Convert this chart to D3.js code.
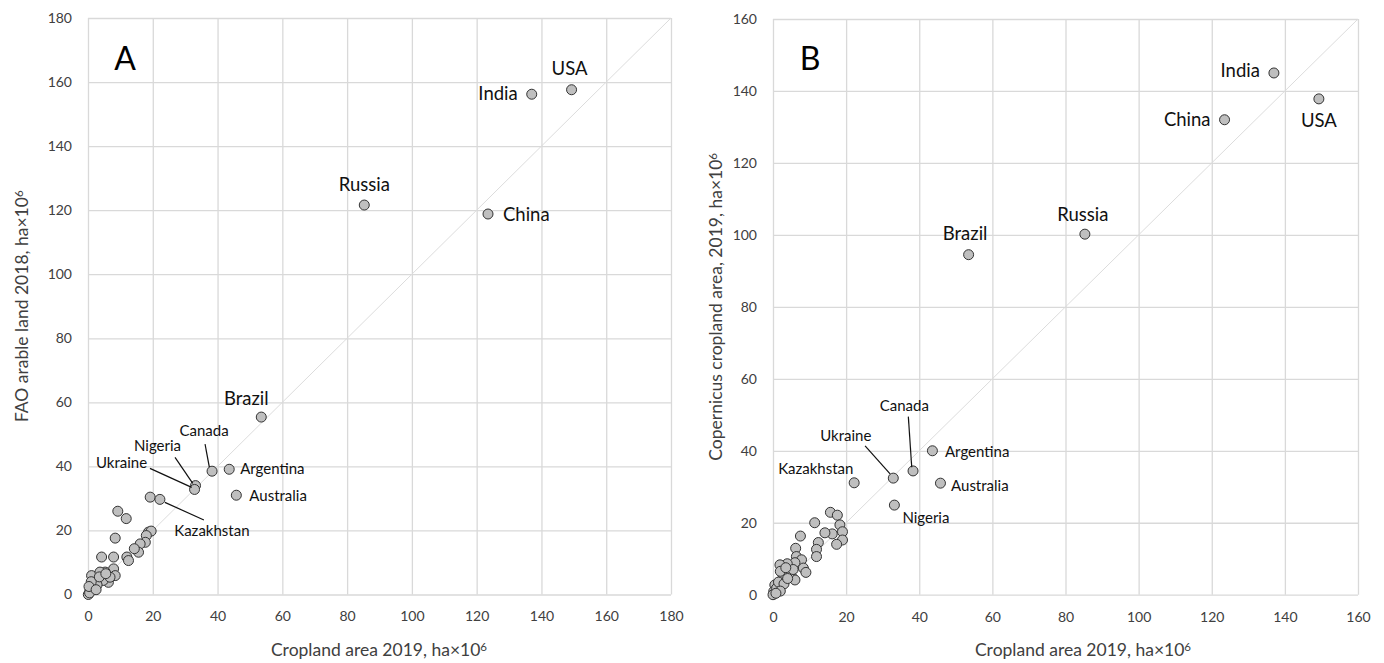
<!DOCTYPE html>
<html>
<head>
<meta charset="utf-8">
<script src="https://cdn.jsdelivr.net/npm/d3@7"></script>
<style>
  body { margin: 0; background: #fff; }
  svg { display: block; font-family: Lato, "Open Sans", sans-serif; }
</style>
</head>
<body>
<svg id="chart" width="1384" height="663"></svg>
<script>
// named countries: cropland area 2019, FAO arable 2018, Copernicus 2019 (ha x 10^6)
const countries  = ["USA", "India", "China", "Russia", "Brazil", "Canada", "Argentina", "Australia", "Nigeria", "Ukraine", "Kazakhstan"];
const cropland   = [149.3, 137.0, 123.5, 85.3, 53.5, 38.3, 43.6, 45.8, 33.2, 32.9, 22.2];
const faoArable  = [157.6, 156.2, 118.8, 121.6, 55.4, 38.5, 39.1, 31.0, 34.0, 32.8, 29.7];
const copernicus = [137.8, 145.0, 132.0, 100.2, 94.5, 34.4, 40.0, 31.0, 24.9, 32.4, 31.1];

// unlabelled countries, [cropland, other estimate]
const otherA = [
  [19.2, 30.4], [9.2, 26.0], [11.8, 23.7], [8.4, 17.6], [18.7, 19.5], [19.5, 19.8],
  [18.0, 18.4], [17.7, 16.3], [16.1, 15.8], [15.6, 13.2], [14.3, 14.3], [12.0, 11.7],
  [12.5, 10.6], [7.9, 11.7], [4.2, 11.7], [7.9, 8.0], [5.3, 7.0], [8.4, 5.9],
  [6.3, 3.8], [3.2, 4.4], [1.1, 5.9], [1.6, 3.3], [0.6, 1.25], [0.1, 0.0],
  [2.2, 2.3], [4.7, 4.4], [6.8, 5.4], [3.7, 7.0], [1.5, 2.0], [0.5, 0.5],
  [2.8, 3.0], [1.0, 4.0], [3.5, 5.5], [5.5, 6.5], [0.3, 2.5], [2.5, 1.5]
];
const otherB = [
  [15.7, 22.9], [17.6, 22.1], [18.3, 19.4], [19.0, 17.5], [19.0, 15.2], [17.4, 14.0],
  [16.2, 16.9], [14.2, 17.2], [11.4, 20.0], [7.5, 16.3], [12.4, 14.5], [11.9, 12.6],
  [11.9, 10.6], [6.2, 12.9], [6.4, 10.6], [7.8, 9.7], [6.0, 8.9], [3.9, 8.6],
  [1.9, 8.3], [8.3, 7.4], [9.0, 6.2], [5.1, 5.0], [6.0, 4.1], [2.8, 5.2],
  [2.3, 3.2], [0.5, 2.7], [0.2, 0.9], [0.0, 0.0], [1.0, 1.8], [1.5, 3.5],
  [3.0, 3.0], [4.5, 6.0], [5.5, 7.0], [2.0, 1.0], [0.8, 0.4], [4.0, 4.5],
  [2.0, 6.5], [3.5, 7.5]
];

const ticksA = d3.range(0, 181, 20);
const ticksB = d3.range(0, 161, 20);

// label placement, pixel offsets from the point
const big = ["USA", "India", "China", "Russia", "Brazil"];
const labelsA = {
  USA: ["middle", -2, -22], India: ["end", -14, -1], China: ["start", 15, 0],
  Russia: ["middle", 0, -21], Brazil: ["middle", -15, -19],
  Canada: ["middle", -8, -41, [-7, -27, -2.7, -4]],
  Argentina: ["start", 11, -1], Australia: ["start", 13, 0],
  Nigeria: ["middle", -38, -41, [-20.5, -28.3, -2.8, -2.3]],
  Ukraine: ["middle", -73, -27, [-44.6, -21.1, -2.9, -2.1]],
  Kazakhstan: ["middle", 52, 31, [5, 3, 44, 20.6]]
};
const labelsB = {
  USA: ["middle", 0, 21], India: ["end", -14, -3], China: ["end", -14, -1],
  Russia: ["middle", -2, -20], Brazil: ["middle", -3.5, -21.6],
  Canada: ["middle", -8.7, -66, [-4.7, -54.3, -1.3, -3.7]],
  Argentina: ["start", 12.6, 0], Australia: ["start", 10.6, 2],
  Nigeria: ["start", 8, 11.5],
  Ukraine: ["middle", -47.5, -43, [-28.2, -32.2, -3.2, -4.2]],
  Kazakhstan: ["middle", -38.4, -14.6]
};

const svg = d3.select("#chart");
const grid = "#d9d9d9", ink = "#404040";

function panel(opt) {
  const x = d3.scaleLinear().domain([0, opt.max]).range([opt.left, opt.right]);
  const y = d3.scaleLinear().domain([0, opt.max]).range([opt.bottom, opt.top]);
  const g = svg.append("g");

  const xa = g.append("g")
    .attr("transform", `translate(0,${opt.bottom})`)
    .call(d3.axisBottom(x).tickValues(opt.ticks).tickSize(-(opt.bottom - opt.top)).tickPadding(17));
  const ya = g.append("g")
    .attr("transform", `translate(${opt.left},0)`)
    .call(d3.axisLeft(y).tickValues(opt.ticks).tickSize(-(opt.right - opt.left)).tickPadding(16));
  [xa, ya].forEach(a => {
    a.select(".domain").remove();
    a.selectAll("line").attr("stroke", grid).attr("stroke-width", 1.3);
    a.selectAll("text").attr("fill", ink).style("font-size", "14px").style("font-family", "Lato");
  });

  // 1:1 line
  g.append("line")
    .attr("x1", x(0)).attr("y1", y(0)).attr("x2", x(opt.max)).attr("y2", y(opt.max))
    .attr("stroke", "#dcdcdc").attr("stroke-width", 1);

  const dot = sel => sel.attr("r", 5).attr("fill", "#bfbfbf")
    .attr("stroke", "#333").attr("stroke-width", 1);

  g.append("g").selectAll("circle").data(opt.others).join("circle")
    .attr("cx", d => x(d[0])).attr("cy", d => y(d[1])).call(dot);

  const named = countries.map((c, i) => ({ c, px: x(cropland[i]), py: y(opt.values[i]) }));
  g.append("g").selectAll("circle").data(named).join("circle")
    .attr("cx", d => d.px).attr("cy", d => d.py).call(dot);

  named.forEach(d => {
    const l = opt.labels[d.c];
    if (l[3]) {
      g.append("line")
        .attr("x1", d.px + l[3][0]).attr("y1", d.py + l[3][1])
        .attr("x2", d.px + l[3][2]).attr("y2", d.py + l[3][3])
        .attr("stroke", "#111").attr("stroke-width", 1.2);
    }
    g.append("text")
      .attr("x", d.px + l[1]).attr("y", d.py + l[2])
      .attr("text-anchor", l[0]).attr("dominant-baseline", "central")
      .attr("fill", "#111")
      .style("font-size", big.includes(d.c) ? "18.5px" : "15px")
      .text(d.c);
  });

  g.append("text").attr("x", opt.left + 37).attr("y", 57)
    .attr("text-anchor", "middle").attr("dominant-baseline", "central")
    .style("font-size", "32px").attr("fill", "#000").text(opt.letter);

  const xt = g.append("text").attr("x", opt.xTitleX).attr("y", 656)
    .attr("text-anchor", "middle").attr("fill", ink).style("font-size", "17.5px");
  xt.append("tspan").text("Cropland area 2019, ha×10");
  xt.append("tspan").attr("dy", "-0.45em").style("font-size", "11.5px").text("6");

  const yt = g.append("text")
    .attr("transform", `translate(${opt.yTitleX},${(opt.top + opt.bottom) / 2}) rotate(-90)`)
    .attr("text-anchor", "middle").attr("fill", ink).style("font-size", "17.5px");
  yt.append("tspan").text(opt.yTitle);
  yt.append("tspan").attr("dy", "-0.45em").style("font-size", "11.5px").text("6");
}

panel({
  max: 180, ticks: ticksA, left: 88, right: 671, top: 18, bottom: 594.5,
  values: faoArable, others: otherA, labels: labelsA, letter: "A",
  xTitleX: 379, yTitleX: 28, yTitle: "FAO arable land 2018, ha×10"
});
panel({
  max: 160, ticks: ticksB, left: 773, right: 1358, top: 19, bottom: 594.7,
  values: copernicus, others: otherB, labels: labelsB, letter: "B",
  xTitleX: 1083, yTitleX: 722, yTitle: "Copernicus cropland area, 2019, ha×10"
});
</script>
</body>
</html>
